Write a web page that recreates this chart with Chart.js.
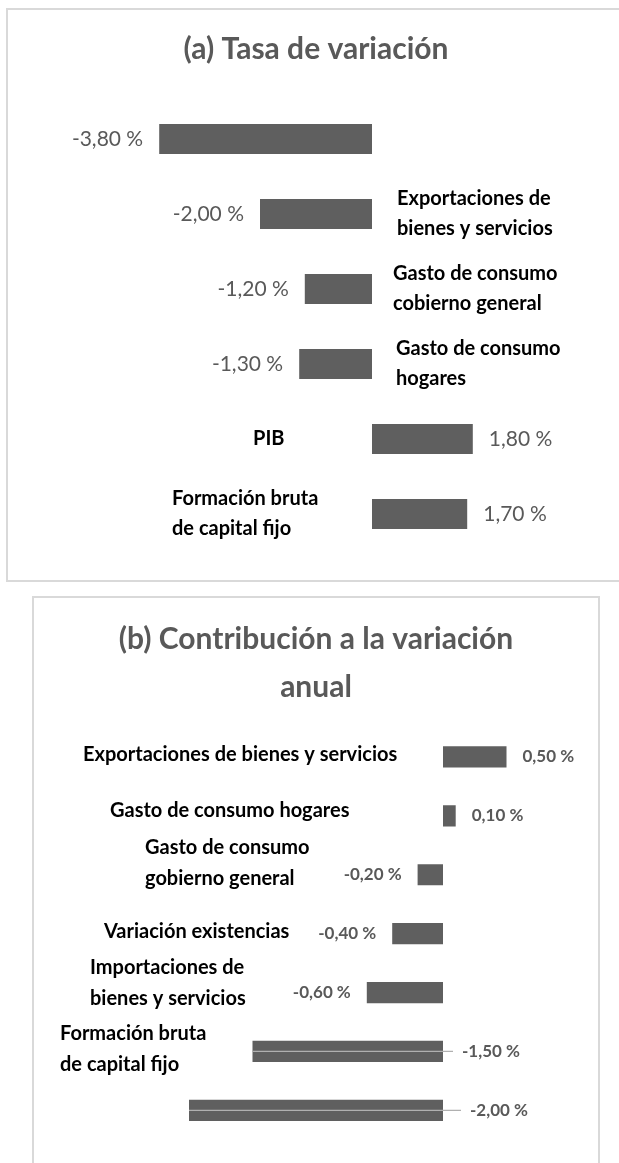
<!DOCTYPE html>
<html>
<head>
<meta charset="utf-8">
<script src="https://cdn.jsdelivr.net/npm/chart.js@4"></script>
<style>
  html, body { margin: 0; padding: 0; background: #fff; width: 619px; height: 1163px; overflow: hidden; position: relative; }
  .box { position: absolute; box-sizing: border-box; border: 2px solid #d9d9d9; }
  canvas { position: absolute; }
</style>
</head>
<body>
<div class="box" style="left:6px; top:8px; width:700px; height:574px;"></div>
<div class="box" style="left:32px; top:596px; width:568px; height:700px;"></div>
<canvas id="tasaChart" width="610" height="570" style="left:8px; top:10px;"></canvas>
<canvas id="contribChart" width="565" height="565" style="left:34px; top:598px;"></canvas>
<script>
// ─── Data ───────────────────────────────────────────────────────────────────
const tasaLabels = [
  '',
  ['Exportaciones de', 'bienes y servicios'],
  ['Gasto de consumo', 'cobierno general'],
  ['Gasto de consumo', 'hogares'],
  'PIB',
  ['Formación bruta', 'de capital fijo'],
];
const tasaValues = [-3.8, -2.0, -1.2, -1.3, 1.8, 1.7];

const contribLabels = [
  'Exportaciones de bienes y servicios',
  'Gasto de consumo hogares',
  ['Gasto de consumo', 'gobierno general'],
  'Variación existencias',
  ['Importaciones de', 'bienes y servicios'],
  ['Formación bruta', 'de capital fijo'],
  '',
];
const contribValues = [0.5, 0.1, -0.2, -0.4, -0.6, -1.5, -2.0];

// ─── Styling ────────────────────────────────────────────────────────────────
const FONT = 'Lato, "Open Sans", sans-serif';
const barColor = '#5f5f5f';
const greyText = '#595959';

const fmt = v => v.toFixed(2).replace('.', ',') + ' %';

// draws category names and value labels next to the bars (Excel-like layout)
const sideLabels = {
  id: 'sideLabels',
  afterDatasetsDraw(chart, args, o) {
    const { ctx, scales: { x, y } } = chart;
    const zero = x.getPixelForValue(0);
    const meta = chart.getDatasetMeta(0);
    const values = chart.data.datasets[0].data;
    ctx.save();
    ctx.textBaseline = 'middle';

    // category labels
    ctx.font = o.catFont;
    ctx.fillStyle = '#000';
    ctx.textAlign = 'left';
    chart.data.labels.forEach((lab, i) => {
      const lines = [].concat(lab);
      const cy = y.getPixelForValue(i) + (o.catDy ? o.catDy[i] : 0);
      const lx = zero + o.catDx[i];
      lines.forEach((ln, k) => ctx.fillText(ln, lx, cy + (k - (lines.length - 1) / 2) * o.lineH));
    });

    // value labels
    ctx.font = o.valFont;
    ctx.fillStyle = greyText;
    meta.data.forEach((bar, i) => {
      const v = values[i];
      const override = o.valDx && o.valDx[i] != null;
      if (override) {
        const lx = zero + o.valDx[i];
        ctx.strokeStyle = '#b0b0b0';
        ctx.lineWidth = 1.2;
        ctx.beginPath();
        ctx.moveTo(bar.x, bar.y);
        ctx.lineTo(lx - 9, bar.y);
        ctx.stroke();
        ctx.textAlign = 'left';
        ctx.fillText(fmt(v), lx, bar.y);
      } else if (v < 0) {
        ctx.textAlign = 'right';
        ctx.fillText(fmt(v), bar.x - o.gap, bar.y);
      } else {
        ctx.textAlign = 'left';
        ctx.fillText(fmt(v), bar.x + o.gap, bar.y);
      }
    });
    ctx.restore();
  },
};

const hiddenScales = (min, max) => ({
  x: { min, max, display: false, grid: { display: false } },
  y: { display: false, grid: { display: false } },
});

// ─── (a) Tasa de variación ──────────────────────────────────────────────────
new Chart(document.getElementById('tasaChart'), {
  type: 'bar',
  data: {
    labels: tasaLabels,
    datasets: [{
      data: tasaValues,
      backgroundColor: barColor,
      borderWidth: 0,
      barPercentage: 1,
      categoryPercentage: 0.4,
    }],
  },
  options: {
    indexAxis: 'y',
    responsive: false,
    animation: false,
    layout: { padding: { left: 28, right: 22, top: 0, bottom: 28.5 } },
    scales: hiddenScales(-6, 4),
    plugins: {
      legend: { display: false },
      tooltip: { enabled: false },
      title: {
        display: true,
        text: '(a) Tasa de variación',
        color: greyText,
        font: { family: FONT, size: 30, weight: 'bold', lineHeight: 1.2 },
        padding: { top: 21, bottom: 34.5 },
      },
      sideLabels: {
        catFont: 'bold 20px ' + FONT,
        valFont: '21px ' + FONT,
        lineH: 30,
        gap: 16,
        catDx: [0, 25, 21, 24, -119, -200],
      },
    },
  },
  plugins: [sideLabels],
});

// ─── (b) Contribución a la variación anual ──────────────────────────────────
new Chart(document.getElementById('contribChart'), {
  type: 'bar',
  data: {
    labels: contribLabels,
    datasets: [{
      data: contribValues,
      backgroundColor: barColor,
      borderWidth: 0,
      barPercentage: 1,
      categoryPercentage: 0.36,
    }],
  },
  options: {
    indexAxis: 'y',
    responsive: false,
    animation: false,
    layout: { padding: { left: 28, right: 29, top: 0, bottom: 23.2 } },
    scales: hiddenScales(-3, 1),
    plugins: {
      legend: { display: false },
      tooltip: { enabled: false },
      title: {
        display: true,
        text: ['(b) Contribución a la variación', 'anual'],
        color: greyText,
        font: { family: FONT, size: 30, weight: 'bold', lineHeight: 1.6 },
        padding: { top: 17, bottom: 16.5 },
      },
      sideLabels: {
        catFont: 'bold 20px ' + FONT,
        valFont: 'bold 17px ' + FONT,
        lineH: 31,
        gap: 16,
        catDx: [-360, -333, -298, -339, -353, -383, 0],
        catDy: [-2, -5, -12, -2, -10, -2, 0],
        valDx: [null, null, null, null, null, 19, 27],
      },
    },
  },
  plugins: [sideLabels],
});
</script>
</body>
</html>
